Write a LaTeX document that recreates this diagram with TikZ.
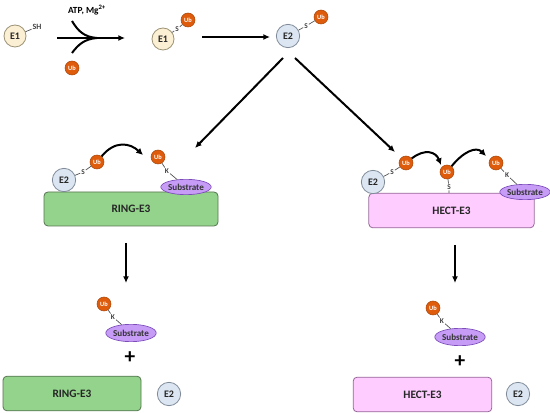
\documentclass[tikz,border=0pt]{standalone}
\usepackage{fontspec}
\setmainfont{Carlito}
\usetikzlibrary{arrows.meta,shapes.geometric}
\definecolor{eonefill}{HTML}{FCF0D4}
\definecolor{eonedraw}{HTML}{9C9276}
\definecolor{etwofill}{HTML}{DCE6F2}
\definecolor{etwodraw}{HTML}{7F8A99}
\definecolor{ubfill}{HTML}{DE5C0C}
\definecolor{ubdraw}{HTML}{A8460A}
\definecolor{subfill}{HTML}{C69CF6}
\definecolor{subdraw}{HTML}{7C4DBA}
\definecolor{ringfill}{HTML}{93D38C}
\definecolor{ringdraw}{HTML}{55744F}
\definecolor{hectfill}{HTML}{FFCCFF}
\definecolor{hectdraw}{HTML}{96689A}
\tikzset{
  eone/.style={circle,draw=eonedraw,fill=eonefill,line width=.6pt,inner sep=0pt,minimum size=16.5pt,text=black!85,font=\fontsize{7.5}{8}\selectfont\bfseries},
  etwo/.style={circle,draw=etwodraw,fill=etwofill,line width=.6pt,inner sep=0pt,minimum size=17.5pt,text=black!85,font=\fontsize{7.5}{8}\selectfont\bfseries},
  ub/.style={circle,draw=ubdraw,fill=ubfill,line width=.4pt,inner sep=0pt,minimum size=10.5pt,text=white,font=\fontsize{4.8}{5}\selectfont\bfseries},
  substrate/.style={ellipse,draw=subdraw,fill=subfill,line width=.5pt,inner sep=0pt,minimum width=35pt,minimum height=11.5pt,text=black!80,font=\fontsize{6.8}{7}\selectfont\bfseries},
  ringbox/.style={draw=ringdraw,fill=ringfill,rounded corners=3pt,line width=.6pt,text=black!85,font=\fontsize{8.5}{9}\selectfont\bfseries},
  hectbox/.style={draw=hectdraw,fill=hectfill,rounded corners=3pt,line width=.6pt,text=black!85,font=\fontsize{8.5}{9}\selectfont\bfseries},
  lnk/.style={inner sep=.6pt,text=black!75,font=\fontsize{5.5}{5.5}\selectfont\bfseries},
  bond/.style={line width=.5pt,black!70},
  flow/.style={-{Latex[length=5pt,width=4.5pt]},line width=1.5pt},
  turn/.style={-{Latex[length=5pt,width=5pt]},line width=1.5pt},
  plus/.style={font=\fontsize{16}{16}\selectfont\bfseries}
}
\begin{document}
\begin{tikzpicture}[x=0.75pt,y=-0.75pt]
  \useasboundingbox (0,0) rectangle (550,413);

  % E1 activation
  \node[eone] (e1a) at (15,36) {E1};
  \node[lnk,font=\fontsize{6}{6}\selectfont\bfseries] (sh) at (37,27) {SH};
  \draw[bond] (e1a) -- (sh);
  \node[font=\fontsize{7}{8}\selectfont\bfseries] (atp) at (87,10) {ATP, Mg\textsuperscript{2+}};
  \node[ub] (ub0) at (72,68) {Ub};
  \coordinate (m0) at (57,38);
  \coordinate (m1) at (125,38);
  \coordinate (mj) at (97,38);
  \coordinate (mt) at (72,21);
  \coordinate (mb) at (72,53);
  \draw[flow] (m0) -- (m1);
  \draw[line width=1.5pt] (mt) .. controls (78,31) and (84,37) .. (mj);
  \draw[line width=1.5pt] (mb) .. controls (78,45) and (84,39) .. (mj);

  \node[eone] (e1b) at (163,39) {E1};
  \node[lnk] (s1) at (177,29) {S};
  \node[ub] (ub1) at (188,20) {Ub};
  \draw[bond] (e1b) -- (s1) -- (ub1);

  \coordinate (a0) at (202,37);
  \coordinate (a1) at (270,37);
  \draw[flow] (a0) -- (a1);

  \node[etwo] (e2) at (288,36) {E2};
  \node[lnk] (s2) at (306,26) {S};
  \node[ub] (ub2) at (321,17) {Ub};
  \draw[bond] (e2) -- (s2) -- (ub2);

  \coordinate (d0) at (283,58);
  \coordinate (d1) at (195,148);
  \coordinate (d2) at (295,58);
  \coordinate (d3) at (395,152);
  \draw[flow] (d0) -- (d1);
  \draw[flow] (d2) -- (d3);

  % RING-E3
  \node[ringbox,minimum width=130.5pt,minimum height=25.5pt] (ring) at (131,209) {RING-E3};
  \node[etwo] (e2L) at (64,180) {E2};
  \node[lnk] (sL) at (83,172) {S};
  \node[ub] (ubL) at (97,162) {Ub};
  \draw[bond] (e2L) -- (sL) -- (ubL);
  \node[substrate] (subL) at (186,187) {Substrate};
  \node[lnk] (kL) at (167,171) {K};
  \node[ub] (ubL2) at (158,157) {Ub};
  \draw[bond] (subL) -- (kL) -- (ubL2);
  \draw[turn] (ubL) .. controls (115,140) and (130,143) .. (143,155);

  % HECT-E3
  \node[hectbox,minimum width=124pt,minimum height=26pt] (hect) at (451.5,210.5) {HECT-E3};
  \node[etwo] (e2R) at (373,182) {E2};
  \node[lnk] (sR) at (392,172) {S};
  \node[ub] (ubR) at (406,163) {Ub};
  \draw[bond] (e2R) -- (sR) -- (ubR);
  \node[ub] (ubR2) at (447,172) {Ub};
  \node[lnk] (sR2) at (449,187) {S};
  \draw[bond] (ubR2) -- (sR2) -- (sR2 |- hect.north);
  \node[substrate] (subR) at (525,192) {Substrate};
  \node[lnk] (kR) at (507,175) {K};
  \node[ub] (ubR3) at (496,163) {Ub};
  \draw[bond] (subR) -- (kR) -- (ubR3);
  \draw[turn] (ubR) .. controls (425,148) and (436,152) .. (441,165);
  \draw[turn] (ubR2) .. controls (463,152) and (476,146) .. (486,156);

  \coordinate (v0) at (126,243);
  \coordinate (v1) at (126,283);
  \coordinate (v2) at (455,245);
  \coordinate (v3) at (455,283);
  \draw[flow] (v0) -- (v1);
  \draw[flow] (v2) -- (v3);

  % products
  \node[substrate,minimum height=13pt] (subL3) at (131,333) {Substrate};
  \node[lnk] (kL3) at (113,317) {K};
  \node[ub] (ubL3) at (104,304) {Ub};
  \draw[bond] (subL3) -- (kL3) -- (ubL3);
  \node[plus] (plusL) at (130,358) {+};
  \node[ringbox,minimum width=103.5pt,minimum height=26pt] (ringB) at (72,393.5) {RING-E3};
  \node[etwo] (e2B) at (169,394) {E2};

  \node[substrate,minimum height=13pt] (subR4) at (460,337) {Substrate};
  \node[lnk] (kR4) at (442,321) {K};
  \node[ub] (ubR4) at (433,308) {Ub};
  \draw[bond] (subR4) -- (kR4) -- (ubR4);
  \node[plus] (plusR) at (460,362) {+};
  \node[hectbox,minimum width=104pt,minimum height=26pt] (hectB) at (422.5,394.5) {HECT-E3};
  \node[etwo] (e2B2) at (518,394) {E2};
\end{tikzpicture}
\end{document}
